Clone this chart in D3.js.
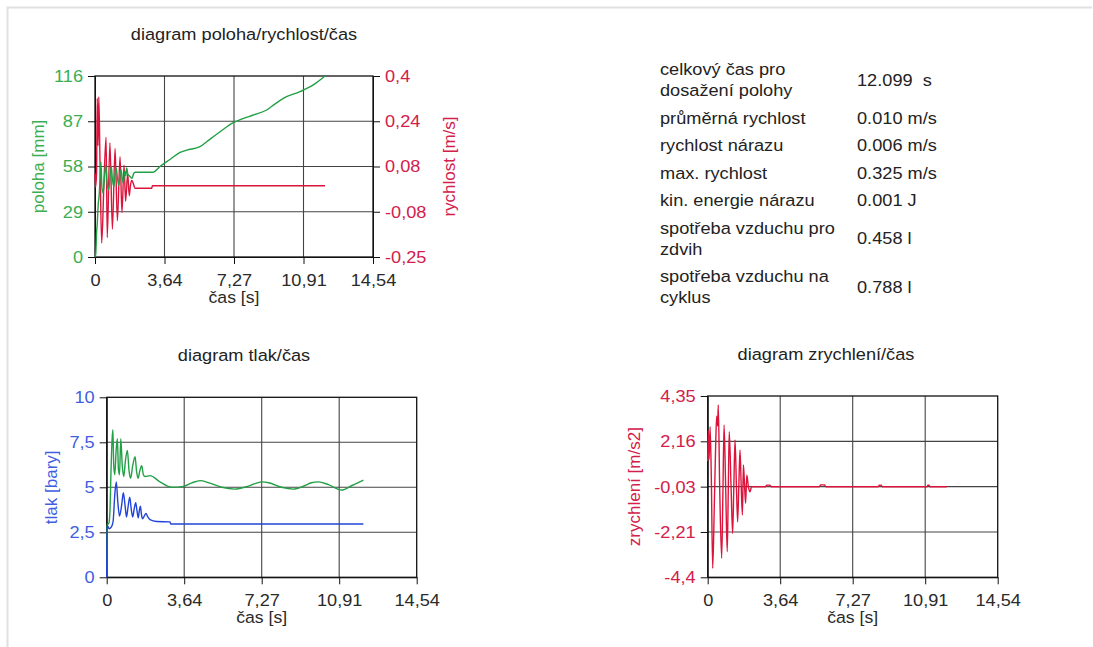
<!DOCTYPE html>
<html>
<head>
<meta charset="utf-8">
<script src="https://cdn.jsdelivr.net/npm/d3@7"></script>
<style>
  body { margin: 0; background: #fff; }
  svg { display: block; font-family: "Liberation Sans", Arial, sans-serif; }
  text { white-space: pre; }
</style>
</head>
<body>
<svg id="chart" width="1093" height="647"></svg>
<script>
// time axis shared by all three diagrams
var casTicks = [0, 3.635, 7.27, 10.905, 14.54];
var casLabels = ['0', '3,64', '7,27', '10,91', '14,54'];

var polohaTicks = [0, 29, 58, 87, 116];
var polohaLabels = ['0', '29', '58', '87', '116'];
var rychlostTicks = [-0.25, -0.0875, 0.075, 0.2375, 0.4];
var rychlostLabels = ['-0,25', '-0,08', '0,08', '0,24', '0,4'];
var tlakTicks = [0, 2.5, 5, 7.5, 10];
var tlakLabels = ['0', '2,5', '5', '7,5', '10'];
var zrychTicks = [-4.4, -2.2125, -0.025, 2.1625, 4.35];
var zrychLabels = ['-4,4', '-2,21', '-0,03', '2,16', '4,35'];

// [t (s), value]
var poloha = [[0,0],[0.04,2],[0.08,15],[0.12,22],[0.17,34],[0.22,40],[0.27,52],[0.31,61],[0.36,45],
  [0.42,41],[0.5,52],[0.56,59],[0.63,48],[0.71,43],[0.78,50],[0.85,58],[0.91,50],[0.98,45],[1.04,51],
  [1.11,57],[1.17,51],[1.24,46],[1.3,51],[1.36,56],[1.42,51],[1.47,47.5],[1.52,51],[1.56,55],[1.61,52],
  [1.66,57],[1.72,53],[1.8,52],[1.88,51],[1.94,50.5],[2.02,53.5],[2.1,54.3],[3.02,54.3],[3.4,58],
  [3.92,62.5],[4.45,67],[4.8,68.5],[5.49,70.7],[5.84,73.9],[6.54,80.3],[7.23,86.1],[7.7,88.5],
  [8.28,91],[8.98,94.2],[9.4,98],[9.85,101.7],[10.72,106],[11.42,110.3],[12.03,116]];

var rychlost = [[0,0.05],[0.03,0],[0.08,0.05],[0.12,0.32],[0.16,0.15],[0.2,0.325],[0.26,0.1],[0.35,-0.2],
  [0.46,0],[0.58,0.18],[0.64,-0.18],[0.78,0.16],[0.91,-0.15],[1.05,0.14],[1.17,-0.12],[1.31,0.11],
  [1.41,-0.09],[1.52,0.08],[1.6,-0.05],[1.71,0.05],[1.79,-0.03],[1.86,0.01],[1.92,0.025],[2,0.015],
  [2.09,-0.003],[2.97,-0.003],[3,0.006],[12.03,0.006]];

var tlakA = [[0,0],[0.02,2.9],[0.1,3],[0.15,3.6],[0.2,5.8],[0.25,7.6],[0.29,8.2],[0.33,6.2],[0.38,5.7],
  [0.44,7],[0.5,7.7],[0.55,6],[0.6,5.7],[0.66,7.7],[0.73,6.2],[0.8,5.6],[0.88,6.5],[0.97,7.05],[1.05,5.9],
  [1.12,5.5],[1.22,6.2],[1.33,6.7],[1.4,5.9],[1.47,5.5],[1.55,5.9],[1.64,6.2],[1.72,5.7],[1.8,5.6],
  [2.03,5.65],[2.5,5.3],[3.05,5],[3.6,5.05],[4,5.25],[4.38,5.37],[4.8,5.25],[5.4,5],[6,4.9],[6.6,5.05],
  [7,5.22],[7.27,5.3],[7.6,5.25],[8.2,5],[8.75,4.9],[9.3,5.1],[9.6,5.25],[9.93,5.3],[10.4,5.15],
  [11.02,4.85],[11.5,5.1],[12.04,5.4]];

var tlakB = [[0,0],[0.02,2.9],[0.12,2.7],[0.22,2.8],[0.3,3.1],[0.38,4.6],[0.45,5.3],[0.52,4.2],[0.6,3.4],
  [0.7,4],[0.78,4.7],[0.86,4],[0.93,3.35],[1,3.9],[1.08,4.45],[1.15,3.8],[1.22,3.35],[1.29,3.8],
  [1.36,4.15],[1.42,3.7],[1.48,3.3],[1.53,3.7],[1.58,3.95],[1.63,3.5],[1.68,3.25],[1.76,3.4],
  [1.84,3.55],[1.93,3.35],[2.03,3.2],[2.34,3.1],[2.97,3.08],[3,2.96],[12.04,2.96]];

var zrychleni = [[0,1.2],[0.03,2.7],[0.07,1.3],[0.12,2.87],[0.18,0.5],[0.25,-3.97],[0.33,-1],[0.4,2],
  [0.45,3.38],[0.5,2.9],[0.53,3.92],[0.6,0],[0.7,-3.48],[0.76,-0.5],[0.82,2.95],[0.9,0],[0.98,-3.17],
  [1.03,-0.3],[1.08,2.63],[1.17,0],[1.25,-2.28],[1.31,0],[1.37,2.23],[1.44,0],[1.5,-1.72],[1.56,0],
  [1.62,1.74],[1.68,0],[1.74,-1.39],[1.79,1.02],[1.85,0],[1.9,-0.83],[1.96,0.54],[2.04,-0.03],
  [2.12,-0.27],[2.2,-0.03],[2.9,-0.03],[2.96,0.05],[3.12,0.05],[3.18,-0.03],[5.6,-0.03],[5.66,0.06],
  [5.86,0.06],[5.92,-0.03],[8.55,-0.03],[8.6,0.05],[8.7,0.05],[8.75,-0.03],[11,-0.03],[11.04,0.04],
  [11.1,0.04],[11.14,-0.03],[11.99,-0.03]];

// summary table
var infoLabels = [['celkový čas pro', 'dosažení polohy'], ['průměrná rychlost'], ['rychlost nárazu'],
  ['max. rychlost'], ['kin. energie nárazu'], ['spotřeba vzduchu pro', 'zdvih'],
  ['spotřeba vzduchu na', 'cyklus']];
var infoValues = ['12.099  s', '0.010 m/s', '0.006 m/s', '0.325 m/s', '0.001 J', '0.458 l', '0.788 l'];

var GREEN = '#22a046', GREEN_T = '#3aae52';
var RED = '#dc143c', RED_T = '#d3204b';
var BLUE = '#2144d8', BLUE_T = '#3f5fe0';
var SX = 1.07;   // text in the source is a bit wider than plain Arial

var svg = d3.select('#chart');
svg.append('rect').attr('width', 1093).attr('height', 647).attr('fill', '#fff');

// light frame top/left
svg.append('path')
    .attr('d', 'M7.5,647 L7.5,7.5 L1092,7.5')
    .attr('fill', 'none')
    .attr('stroke', '#e0e0e0')
    .attr('stroke-width', 2);

function stretch(sel) {
    sel.each(function() {
        var t = d3.select(this);
        var x = +t.attr('x') || 0, y = +t.attr('y') || 0;
        t.attr('x', null).attr('y', null)
            .attr('transform', 'translate(' + x + ',' + y + ') scale(' + SX + ',1)');
    });
}

function label(g, x, y, txt, color, anchor, size) {
    return g.append('text')
        .attr('x', x).attr('y', y)
        .attr('text-anchor', anchor || 'middle')
        .attr('fill', color)
        .style('font-size', (size || 17) + 'px')
        .text(txt)
        .call(stretch);
}

function vlabel(g, x, y, txt, color) {
    g.append('text')
        .attr('transform', 'translate(' + x + ',' + y + ') rotate(-90)')
        .attr('text-anchor', 'middle')
        .attr('fill', color)
        .style('font-size', '17px')
        .text(txt);
}

function styleAxis(g, color) {
    g.selectAll('path.domain').attr('stroke', '#111');
    g.selectAll('.tick line').attr('stroke', '#111');
    g.selectAll('.tick text')
        .attr('fill', color)
        .style('font-size', '17px')
        .style('font-family', '"Liberation Sans", Arial, sans-serif')
        .call(stretch);
}

function panel(p) {
    var g = svg.append('g');
    var x = d3.scaleLinear().domain([0, 14.54]).range([p.x0, p.x1]);
    var y = d3.scaleLinear().domain(p.left.domain).range([p.bottom, p.top]);

    label(g, p.titleX, p.top - 36, p.title, '#222');

    // grid
    g.selectAll('line.gx').data(casTicks.slice(1, -1)).enter().append('line')
        .attr('x1', d => x(d)).attr('x2', d => x(d))
        .attr('y1', p.top).attr('y2', p.bottom)
        .attr('stroke', '#444').attr('stroke-width', 1.1);
    g.selectAll('line.gy').data(p.left.ticks.slice(1, -1)).enter().append('line')
        .attr('x1', p.x0).attr('x2', p.x1)
        .attr('y1', d => y(d)).attr('y2', d => y(d))
        .attr('stroke', '#444').attr('stroke-width', 1.1);

    g.append('rect')
        .attr('x', p.x0).attr('y', p.top)
        .attr('width', p.x1 - p.x0).attr('height', p.bottom - p.top)
        .attr('fill', 'none').attr('stroke', '#111').attr('stroke-width', 1.3);

    var xa = g.append('g').attr('transform', 'translate(0,' + p.bottom + ')')
        .call(d3.axisBottom(x).tickValues(casTicks)
            .tickFormat((d, i) => casLabels[i]).tickSize(7).tickPadding(10).tickSizeOuter(0));
    styleAxis(xa, '#2a2a2a');

    var ya = g.append('g').attr('transform', 'translate(' + p.x0 + ',0)')
        .call(d3.axisLeft(y).tickValues(p.left.ticks)
            .tickFormat((d, i) => p.left.labels[i]).tickSize(7).tickPadding(5).tickSizeOuter(0));
    styleAxis(ya, p.left.color);

    var y2;
    if (p.right) {
        y2 = d3.scaleLinear().domain(p.right.domain).range([p.bottom, p.top]);
        var ra = g.append('g').attr('transform', 'translate(' + p.x1 + ',0)')
            .call(d3.axisRight(y2).tickValues(p.right.ticks)
                .tickFormat((d, i) => p.right.labels[i]).tickSize(7).tickPadding(5).tickSizeOuter(0));
        styleAxis(ra, p.right.color);
        vlabel(g, p.right.titleX, (p.top + p.bottom) / 2, p.right.title, p.right.color);
    }

    label(g, (p.x0 + p.x1) / 2, p.bottom + 46, 'čas [s]', '#2a2a2a', 'middle', 16.5);
    vlabel(g, p.left.titleX, (p.top + p.bottom) / 2, p.left.title, p.left.color);

    p.series.forEach(function(s) {
        var sy = s.axis === 'right' ? y2 : y;
        var line = d3.line().x(d => x(d[0])).y(d => sy(d[1])).curve(d3.curveMonotoneX);
        g.append('path')
            .datum(s.data)
            .attr('d', line)
            .attr('fill', 'none')
            .attr('stroke', s.color)
            .attr('stroke-width', 1.4);
    });
}

panel({
    x0: 95, x1: 373, top: 76, bottom: 257, titleX: 244,
    title: 'diagram poloha/rychlost/čas',
    left: { domain: [0, 116], ticks: polohaTicks, labels: polohaLabels, color: GREEN_T,
            title: 'poloha [mm]', titleX: 43.5 },
    right: { domain: [-0.25, 0.4], ticks: rychlostTicks, labels: rychlostLabels, color: RED_T,
             title: 'rychlost [m/s]', titleX: 455 },
    series: [
        { data: rychlost, color: RED, axis: 'right' },
        { data: poloha, color: GREEN }
    ]
});

panel({
    x0: 106.7, x1: 416.7, top: 397.3, bottom: 577.3, titleX: 244,
    title: 'diagram tlak/čas',
    left: { domain: [0, 10], ticks: tlakTicks, labels: tlakLabels, color: BLUE_T,
            title: 'tlak [bary]', titleX: 56.5 },
    series: [
        { data: tlakA, color: GREEN },
        { data: tlakB, color: BLUE }
    ]
});

panel({
    x0: 707.7, x1: 997.7, top: 396, bottom: 577.3, titleX: 826,
    title: 'diagram zrychlení/čas',
    left: { domain: [-4.4, 4.35], ticks: zrychTicks, labels: zrychLabels, color: RED_T,
            title: 'zrychlení [m/s2]', titleX: 640 },
    series: [
        { data: zrychleni, color: RED }
    ]
});

// table
var tg = svg.append('g');
var rowY = 75;
infoLabels.forEach(function(lines, i) {
    lines.forEach(function(l, j) {
        label(tg, 660, rowY + j * 21, l, '#222', 'start');
    });
    label(tg, 857, rowY + (lines.length - 1) * 21 / 2, infoValues[i], '#222', 'start');
    rowY += (lines.length - 1) * 21 + 27.5;
});
</script>
</body>
</html>
